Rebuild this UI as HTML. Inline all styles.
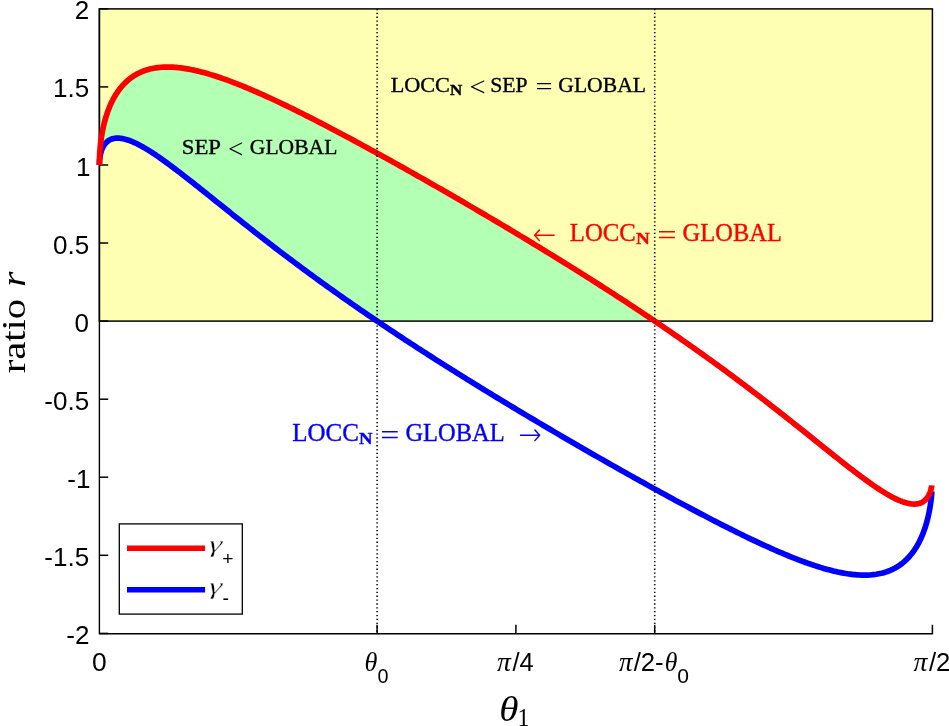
<!DOCTYPE html>
<html><head><meta charset="utf-8"><title>ratio r vs theta_1</title>
<style>
html,body{margin:0;padding:0;background:#fff;}
svg{display:block}
</style></head><body>
<svg width="949" height="726" viewBox="0 0 949 726">
<rect width="949" height="726" fill="#fff"/>
<rect x="99.4" y="8.9" width="833.0" height="312.2" fill="#ffffb3"/>
<path d="M99.40,164.92 L99.41,163.13 L99.43,161.34 L99.47,159.55 L99.53,157.77 L99.61,155.98 L99.70,154.20 L99.80,152.42 L99.93,150.65 L100.07,148.88 L100.22,147.12 L100.40,145.37 L100.59,143.63 L100.79,141.89 L101.02,140.16 L101.25,138.45 L101.51,136.74 L101.78,135.05 L102.07,133.36 L102.37,131.69 L102.69,130.04 L103.03,128.39 L103.39,126.76 L103.76,125.15 L104.14,123.55 L104.54,121.97 L104.96,120.40 L105.40,118.85 L105.85,117.32 L106.32,115.81 L106.80,114.31 L107.30,112.83 L107.82,111.38 L108.35,109.94 L108.90,108.52 L109.46,107.12 L110.04,105.74 L110.64,104.39 L111.25,103.05 L111.88,101.74 L112.53,100.45 L113.19,99.18 L113.86,97.93 L114.56,96.71 L115.27,95.51 L115.99,94.33 L116.73,93.18 L117.49,92.05 L118.26,90.95 L119.05,89.86 L119.85,88.81 L120.67,87.77 L121.50,86.77 L122.35,85.78 L123.22,84.82 L124.10,83.89 L125.00,82.98 L125.91,82.10 L126.84,81.24 L127.78,80.41 L128.74,79.60 L129.71,78.82 L130.70,78.06 L131.71,77.33 L132.73,76.63 L133.76,75.95 L134.81,75.29 L135.88,74.66 L136.96,74.06 L138.05,73.48 L139.16,72.93 L140.29,72.40 L141.43,71.90 L142.58,71.42 L143.75,70.97 L144.94,70.55 L146.14,70.15 L147.35,69.77 L148.58,69.42 L149.82,69.09 L151.08,68.79 L152.35,68.51 L153.64,68.26 L154.94,68.03 L156.25,67.83 L157.58,67.65 L158.92,67.49 L160.28,67.36 L161.65,67.25 L163.04,67.17 L164.44,67.11 L165.85,67.07 L167.28,67.05 L168.72,67.06 L170.17,67.09 L171.64,67.14 L173.12,67.22 L174.62,67.31 L176.13,67.43 L177.65,67.57 L179.19,67.74 L180.74,67.92 L182.30,68.12 L183.87,68.35 L185.46,68.60 L187.07,68.86 L188.68,69.15 L190.31,69.46 L191.95,69.78 L193.60,70.13 L195.27,70.50 L196.95,70.88 L198.64,71.29 L200.35,71.71 L202.06,72.15 L203.79,72.61 L205.53,73.09 L207.29,73.59 L209.05,74.11 L210.83,74.64 L212.62,75.19 L214.42,75.76 L216.24,76.34 L218.06,76.94 L219.90,77.56 L221.75,78.19 L223.61,78.84 L225.49,79.51 L227.37,80.19 L229.27,80.89 L231.17,81.60 L233.09,82.32 L235.02,83.07 L236.96,83.82 L238.92,84.60 L240.88,85.38 L242.85,86.18 L244.84,87.00 L246.83,87.82 L248.84,88.66 L250.85,89.52 L252.88,90.39 L254.92,91.27 L256.97,92.16 L259.02,93.07 L261.09,93.99 L263.17,94.92 L265.26,95.86 L267.36,96.81 L269.46,97.78 L271.58,98.76 L273.71,99.75 L275.85,100.75 L277.99,101.76 L280.15,102.78 L282.31,103.81 L284.49,104.86 L286.67,105.91 L288.86,106.98 L291.07,108.05 L293.28,109.14 L295.50,110.23 L297.72,111.33 L299.96,112.45 L302.21,113.57 L304.46,114.70 L306.72,115.84 L308.99,116.99 L311.27,118.15 L313.56,119.32 L315.85,120.50 L318.15,121.68 L320.47,122.87 L322.78,124.07 L325.11,125.28 L327.44,126.50 L329.78,127.73 L332.13,128.96 L334.49,130.20 L336.85,131.45 L339.22,132.70 L341.60,133.96 L343.98,135.23 L346.37,136.51 L348.77,137.79 L351.17,139.08 L353.58,140.38 L356.00,141.68 L358.42,143.00 L360.85,144.31 L363.28,145.63 L365.73,146.96 L368.17,148.30 L370.63,149.64 L373.09,150.99 L375.55,152.34 L378.02,153.70 L380.50,155.07 L382.98,156.44 L385.46,157.81 L387.95,159.19 L390.45,160.58 L392.95,161.97 L395.46,163.37 L397.97,164.77 L400.48,166.18 L403.00,167.59 L405.53,169.01 L408.06,170.43 L410.59,171.86 L413.13,173.29 L415.67,174.73 L418.21,176.17 L420.76,177.62 L423.32,179.07 L425.87,180.52 L428.43,181.98 L431.00,183.44 L433.56,184.91 L436.13,186.38 L438.71,187.86 L441.28,189.34 L443.86,190.82 L446.45,192.31 L449.03,193.80 L451.62,195.29 L454.21,196.79 L456.80,198.29 L459.40,199.80 L461.99,201.31 L464.59,202.82 L467.19,204.34 L469.80,205.86 L472.40,207.38 L475.01,208.91 L477.62,210.44 L480.23,211.97 L482.84,213.51 L485.45,215.05 L488.07,216.59 L490.68,218.13 L493.30,219.68 L495.91,221.23 L498.53,222.79 L501.15,224.35 L503.77,225.90 L506.39,227.47 L509.01,229.03 L511.63,230.60 L514.25,232.17 L516.87,233.74 L519.49,235.32 L522.11,236.90 L524.72,238.48 L527.34,240.06 L529.96,241.65 L532.58,243.24 L535.20,244.83 L537.81,246.42 L540.43,248.01 L543.05,249.61 L545.66,251.21 L548.27,252.81 L550.88,254.42 L553.49,256.02 L556.10,257.63 L558.71,259.24 L561.31,260.85 L563.92,262.47 L566.52,264.08 L569.12,265.70 L571.71,267.32 L574.31,268.94 L576.90,270.57 L579.49,272.19 L582.08,273.82 L584.66,275.45 L587.25,277.08 L589.83,278.71 L592.40,280.35 L594.98,281.98 L597.55,283.62 L600.11,285.26 L602.68,286.90 L605.24,288.54 L607.79,290.19 L610.35,291.83 L612.90,293.48 L615.44,295.13 L617.98,296.78 L620.52,298.43 L623.05,300.08 L625.58,301.73 L628.11,303.39 L630.63,305.04 L633.14,306.70 L635.65,308.36 L638.16,310.02 L640.66,311.68 L643.16,313.34 L645.65,315.01 L648.13,316.67 L650.62,318.34 L653.09,320.00 L654.73,321.10 L654.73,321.10 L653.09,321.10 L650.62,321.10 L648.13,321.10 L645.65,321.10 L643.16,321.10 L640.66,321.10 L638.16,321.10 L635.65,321.10 L633.14,321.10 L630.63,321.10 L628.11,321.10 L625.58,321.10 L623.05,321.10 L620.52,321.10 L617.98,321.10 L615.44,321.10 L612.90,321.10 L610.35,321.10 L607.79,321.10 L605.24,321.10 L602.68,321.10 L600.11,321.10 L597.55,321.10 L594.98,321.10 L592.40,321.10 L589.83,321.10 L587.25,321.10 L584.66,321.10 L582.08,321.10 L579.49,321.10 L576.90,321.10 L574.31,321.10 L571.71,321.10 L569.12,321.10 L566.52,321.10 L563.92,321.10 L561.31,321.10 L558.71,321.10 L556.10,321.10 L553.49,321.10 L550.88,321.10 L548.27,321.10 L545.66,321.10 L543.05,321.10 L540.43,321.10 L537.81,321.10 L535.20,321.10 L532.58,321.10 L529.96,321.10 L527.34,321.10 L524.72,321.10 L522.11,321.10 L519.49,321.10 L516.87,321.10 L514.25,321.10 L511.63,321.10 L509.01,321.10 L506.39,321.10 L503.77,321.10 L501.15,321.10 L498.53,321.10 L495.91,321.10 L493.30,321.10 L490.68,321.10 L488.07,321.10 L485.45,321.10 L482.84,321.10 L480.23,321.10 L477.62,321.10 L475.01,321.10 L472.40,321.10 L469.80,321.10 L467.19,321.10 L464.59,321.10 L461.99,321.10 L459.40,321.10 L456.80,321.10 L454.21,321.10 L451.62,321.10 L449.03,321.10 L446.45,321.10 L443.86,321.10 L441.28,321.10 L438.71,321.10 L436.13,321.10 L433.56,321.10 L431.00,321.10 L428.43,321.10 L425.87,321.10 L423.32,321.10 L420.76,321.10 L418.21,321.10 L415.67,321.10 L413.13,321.10 L410.59,321.10 L408.06,321.10 L405.53,321.10 L403.00,321.10 L400.48,321.10 L397.97,321.10 L395.46,321.10 L392.95,321.10 L390.45,321.10 L387.95,321.10 L385.46,321.10 L382.98,321.10 L380.50,321.10 L378.02,321.10 L375.55,320.07 L373.09,318.40 L370.63,316.73 L368.17,315.06 L365.73,313.38 L363.28,311.71 L360.85,310.04 L358.42,308.37 L356.00,306.69 L353.58,305.02 L351.17,303.34 L348.77,301.67 L346.37,299.99 L343.98,298.32 L341.60,296.64 L339.22,294.97 L336.85,293.29 L334.49,291.62 L332.13,289.94 L329.78,288.27 L327.44,286.59 L325.11,284.92 L322.78,283.24 L320.47,281.57 L318.15,279.89 L315.85,278.22 L313.56,276.55 L311.27,274.88 L308.99,273.21 L306.72,271.54 L304.46,269.87 L302.21,268.21 L299.96,266.54 L297.72,264.88 L295.50,263.22 L293.28,261.56 L291.07,259.90 L288.86,258.25 L286.67,256.59 L284.49,254.94 L282.31,253.29 L280.15,251.65 L277.99,250.01 L275.85,248.37 L273.71,246.73 L271.58,245.09 L269.46,243.46 L267.36,241.84 L265.26,240.21 L263.17,238.59 L261.09,236.98 L259.02,235.37 L256.97,233.76 L254.92,232.16 L252.88,230.56 L250.85,228.97 L248.84,227.38 L246.83,225.80 L244.84,224.23 L242.85,222.66 L240.88,221.09 L238.92,219.53 L236.96,217.98 L235.02,216.44 L233.09,214.90 L231.17,213.37 L229.27,211.85 L227.37,210.33 L225.49,208.82 L223.61,207.33 L221.75,205.83 L219.90,204.35 L218.06,202.88 L216.24,201.41 L214.42,199.96 L212.62,198.51 L210.83,197.08 L209.05,195.65 L207.29,194.24 L205.53,192.84 L203.79,191.44 L202.06,190.06 L200.35,188.69 L198.64,187.34 L196.95,185.99 L195.27,184.66 L193.60,183.34 L191.95,182.03 L190.31,180.74 L188.68,179.46 L187.07,178.19 L185.46,176.94 L183.87,175.70 L182.30,174.48 L180.74,173.27 L179.19,172.08 L177.65,170.90 L176.13,169.74 L174.62,168.60 L173.12,167.47 L171.64,166.36 L170.17,165.26 L168.72,164.19 L167.28,163.13 L165.85,162.09 L164.44,161.07 L163.04,160.07 L161.65,159.08 L160.28,158.12 L158.92,157.17 L157.58,156.25 L156.25,155.34 L154.94,154.46 L153.64,153.59 L152.35,152.75 L151.08,151.93 L149.82,151.13 L148.58,150.35 L147.35,149.59 L146.14,148.86 L144.94,148.14 L143.75,147.45 L142.58,146.79 L141.43,146.14 L140.29,145.52 L139.16,144.93 L138.05,144.35 L136.96,143.81 L135.88,143.28 L134.81,142.78 L133.76,142.31 L132.73,141.86 L131.71,141.43 L130.70,141.03 L129.71,140.66 L128.74,140.31 L127.78,139.98 L126.84,139.69 L125.91,139.41 L125.00,139.17 L124.10,138.95 L123.22,138.75 L122.35,138.58 L121.50,138.44 L120.67,138.33 L119.85,138.24 L119.05,138.18 L118.26,138.14 L117.49,138.13 L116.73,138.15 L115.99,138.19 L115.27,138.26 L114.56,138.36 L113.86,138.48 L113.19,138.63 L112.53,138.81 L111.88,139.01 L111.25,139.24 L110.64,139.50 L110.04,139.78 L109.46,140.08 L108.90,140.42 L108.35,140.77 L107.82,141.16 L107.30,141.57 L106.80,142.00 L106.32,142.46 L105.85,142.94 L105.40,143.45 L104.96,143.98 L104.54,144.53 L104.14,145.11 L103.76,145.72 L103.39,146.34 L103.03,146.99 L102.69,147.66 L102.37,148.35 L102.07,149.06 L101.78,149.80 L101.51,150.55 L101.25,151.33 L101.02,152.13 L100.79,152.94 L100.59,153.77 L100.40,154.63 L100.22,155.50 L100.07,156.39 L99.93,157.29 L99.80,158.21 L99.70,159.15 L99.61,160.10 L99.53,161.07 L99.47,162.05 L99.43,163.05 L99.41,164.05 L99.40,165.07Z" fill="#b3ffb3"/>
<rect x="99.4" y="8.9" width="833.0" height="312.2" fill="none" stroke="#000" stroke-width="1.5"/>
<g stroke="#000" stroke-width="1.4" fill="none">
<path d="M99.4,8.200000000000001 V633.8 H933.1"/>
</g>
<g stroke="#000" stroke-width="1.5" fill="none">
<line x1="99.4" y1="8.8" x2="108.2" y2="8.8"/>
<line x1="99.4" y1="86.9" x2="108.2" y2="86.9"/>
<line x1="99.4" y1="165.0" x2="108.2" y2="165.0"/>
<line x1="99.4" y1="243.0" x2="108.2" y2="243.0"/>
<line x1="99.4" y1="321.1" x2="108.2" y2="321.1"/>
<line x1="99.4" y1="399.2" x2="108.2" y2="399.2"/>
<line x1="99.4" y1="477.2" x2="108.2" y2="477.2"/>
<line x1="99.4" y1="555.3" x2="108.2" y2="555.3"/>
<line x1="99.4" y1="633.4" x2="108.2" y2="633.4"/>
<line x1="377.1" y1="633.8" x2="377.1" y2="624.8"/>
<line x1="515.9" y1="633.8" x2="515.9" y2="624.8"/>
<line x1="654.7" y1="633.8" x2="654.7" y2="624.8"/>
<line x1="932.4" y1="633.8" x2="932.4" y2="624.8"/>
</g>
<path d="M99.40,165.07 L99.41,164.05 L99.43,163.05 L99.47,162.05 L99.53,161.07 L99.61,160.10 L99.70,159.15 L99.80,158.21 L99.93,157.29 L100.07,156.39 L100.22,155.50 L100.40,154.63 L100.59,153.77 L100.79,152.94 L101.02,152.13 L101.25,151.33 L101.51,150.55 L101.78,149.80 L102.07,149.06 L102.37,148.35 L102.69,147.66 L103.03,146.99 L103.39,146.34 L103.76,145.72 L104.14,145.11 L104.54,144.53 L104.96,143.98 L105.40,143.45 L105.85,142.94 L106.32,142.46 L106.80,142.00 L107.30,141.57 L107.82,141.16 L108.35,140.77 L108.90,140.42 L109.46,140.08 L110.04,139.78 L110.64,139.50 L111.25,139.24 L111.88,139.01 L112.53,138.81 L113.19,138.63 L113.86,138.48 L114.56,138.36 L115.27,138.26 L115.99,138.19 L116.73,138.15 L117.49,138.13 L118.26,138.14 L119.05,138.18 L119.85,138.24 L120.67,138.33 L121.50,138.44 L122.35,138.58 L123.22,138.75 L124.10,138.95 L125.00,139.17 L125.91,139.41 L126.84,139.69 L127.78,139.98 L128.74,140.31 L129.71,140.66 L130.70,141.03 L131.71,141.43 L132.73,141.86 L133.76,142.31 L134.81,142.78 L135.88,143.28 L136.96,143.81 L138.05,144.35 L139.16,144.93 L140.29,145.52 L141.43,146.14 L142.58,146.79 L143.75,147.45 L144.94,148.14 L146.14,148.86 L147.35,149.59 L148.58,150.35 L149.82,151.13 L151.08,151.93 L152.35,152.75 L153.64,153.59 L154.94,154.46 L156.25,155.34 L157.58,156.25 L158.92,157.17 L160.28,158.12 L161.65,159.08 L163.04,160.07 L164.44,161.07 L165.85,162.09 L167.28,163.13 L168.72,164.19 L170.17,165.26 L171.64,166.36 L173.12,167.47 L174.62,168.60 L176.13,169.74 L177.65,170.90 L179.19,172.08 L180.74,173.27 L182.30,174.48 L183.87,175.70 L185.46,176.94 L187.07,178.19 L188.68,179.46 L190.31,180.74 L191.95,182.03 L193.60,183.34 L195.27,184.66 L196.95,185.99 L198.64,187.34 L200.35,188.69 L202.06,190.06 L203.79,191.44 L205.53,192.84 L207.29,194.24 L209.05,195.65 L210.83,197.08 L212.62,198.51 L214.42,199.96 L216.24,201.41 L218.06,202.88 L219.90,204.35 L221.75,205.83 L223.61,207.33 L225.49,208.82 L227.37,210.33 L229.27,211.85 L231.17,213.37 L233.09,214.90 L235.02,216.44 L236.96,217.98 L238.92,219.53 L240.88,221.09 L242.85,222.66 L244.84,224.23 L246.83,225.80 L248.84,227.38 L250.85,228.97 L252.88,230.56 L254.92,232.16 L256.97,233.76 L259.02,235.37 L261.09,236.98 L263.17,238.59 L265.26,240.21 L267.36,241.84 L269.46,243.46 L271.58,245.09 L273.71,246.73 L275.85,248.37 L277.99,250.01 L280.15,251.65 L282.31,253.29 L284.49,254.94 L286.67,256.59 L288.86,258.25 L291.07,259.90 L293.28,261.56 L295.50,263.22 L297.72,264.88 L299.96,266.54 L302.21,268.21 L304.46,269.87 L306.72,271.54 L308.99,273.21 L311.27,274.88 L313.56,276.55 L315.85,278.22 L318.15,279.89 L320.47,281.57 L322.78,283.24 L325.11,284.92 L327.44,286.59 L329.78,288.27 L332.13,289.94 L334.49,291.62 L336.85,293.29 L339.22,294.97 L341.60,296.64 L343.98,298.32 L346.37,299.99 L348.77,301.67 L351.17,303.34 L353.58,305.02 L356.00,306.69 L358.42,308.37 L360.85,310.04 L363.28,311.71 L365.73,313.38 L368.17,315.06 L370.63,316.73 L373.09,318.40 L375.55,320.07 L378.02,321.73 L380.50,323.40 L382.98,325.07 L385.46,326.73 L387.95,328.40 L390.45,330.06 L392.95,331.72 L395.46,333.38 L397.97,335.04 L400.48,336.70 L403.00,338.36 L405.53,340.02 L408.06,341.67 L410.59,343.32 L413.13,344.98 L415.67,346.63 L418.21,348.28 L420.76,349.92 L423.32,351.57 L425.87,353.22 L428.43,354.86 L431.00,356.50 L433.56,358.14 L436.13,359.78 L438.71,361.42 L441.28,363.05 L443.86,364.68 L446.45,366.32 L449.03,367.95 L451.62,369.57 L454.21,371.20 L456.80,372.83 L459.40,374.45 L461.99,376.07 L464.59,377.69 L467.19,379.31 L469.80,380.92 L472.40,382.53 L475.01,384.14 L477.62,385.75 L480.23,387.36 L482.84,388.96 L485.45,390.57 L488.07,392.17 L490.68,393.76 L493.30,395.36 L495.91,396.95 L498.53,398.55 L501.15,400.13 L503.77,401.72 L506.39,403.30 L509.01,404.89 L511.63,406.46 L514.25,408.04 L516.87,409.62 L519.49,411.19 L522.11,412.75 L524.72,414.32 L527.34,415.88 L529.96,417.44 L532.58,419.00 L535.20,420.56 L537.81,422.11 L540.43,423.66 L543.05,425.20 L545.66,426.75 L548.27,428.29 L550.88,429.82 L553.49,431.36 L556.10,432.89 L558.71,434.41 L561.31,435.94 L563.92,437.46 L566.52,438.98 L569.12,440.49 L571.71,442.00 L574.31,443.51 L576.90,445.01 L579.49,446.51 L582.08,448.00 L584.66,449.49 L587.25,450.98 L589.83,452.47 L592.40,453.95 L594.98,455.42 L597.55,456.90 L600.11,458.36 L602.68,459.83 L605.24,461.29 L607.79,462.74 L610.35,464.19 L612.90,465.64 L615.44,467.08 L617.98,468.52 L620.52,469.95 L623.05,471.38 L625.58,472.80 L628.11,474.22 L630.63,475.63 L633.14,477.04 L635.65,478.44 L638.16,479.84 L640.66,481.24 L643.16,482.62 L645.65,484.01 L648.13,485.38 L650.62,486.75 L653.09,488.12 L655.56,489.48 L658.03,490.83 L660.48,492.18 L662.94,493.52 L665.38,494.86 L667.83,496.19 L670.26,497.51 L672.69,498.83 L675.11,500.14 L677.53,501.45 L679.94,502.75 L682.34,504.04 L684.74,505.32 L687.13,506.60 L689.52,507.87 L691.89,509.13 L694.26,510.39 L696.62,511.64 L698.98,512.88 L701.33,514.11 L703.67,515.34 L706.00,516.56 L708.33,517.77 L710.65,518.97 L712.96,520.16 L715.26,521.35 L717.55,522.53 L719.84,523.70 L722.12,524.86 L724.39,526.01 L726.65,527.15 L728.90,528.28 L731.15,529.41 L733.39,530.52 L735.61,531.63 L737.83,532.73 L740.04,533.81 L742.25,534.89 L744.44,535.95 L746.62,537.01 L748.80,538.06 L750.96,539.09 L753.12,540.12 L755.26,541.13 L757.40,542.13 L759.53,543.12 L761.65,544.10 L763.75,545.07 L765.85,546.03 L767.94,546.97 L770.02,547.91 L772.09,548.83 L774.15,549.74 L776.19,550.63 L778.23,551.52 L780.26,552.39 L782.27,553.24 L784.28,554.09 L786.27,554.92 L788.26,555.74 L790.23,556.54 L792.20,557.33 L794.15,558.10 L796.09,558.86 L798.02,559.61 L799.94,560.34 L801.84,561.06 L803.74,561.76 L805.62,562.45 L807.50,563.12 L809.36,563.77 L811.21,564.41 L813.05,565.03 L814.87,565.64 L816.69,566.22 L818.49,566.80 L820.28,567.35 L822.06,567.89 L823.82,568.41 L825.58,568.91 L827.32,569.40 L829.05,569.86 L830.77,570.31 L832.47,570.74 L834.16,571.15 L835.84,571.55 L837.51,571.92 L839.16,572.27 L840.80,572.61 L842.43,572.92 L844.04,573.22 L845.65,573.49 L847.24,573.75 L848.81,573.98 L850.37,574.19 L851.92,574.38 L853.46,574.56 L854.98,574.71 L856.49,574.83 L857.99,574.94 L859.47,575.02 L860.94,575.09 L862.39,575.13 L863.83,575.15 L865.26,575.14 L866.67,575.11 L868.07,575.06 L869.46,574.99 L870.83,574.90 L872.19,574.78 L873.53,574.63 L874.86,574.47 L876.17,574.28 L877.47,574.06 L878.76,573.82 L880.03,573.56 L881.29,573.28 L882.53,572.97 L883.76,572.63 L884.97,572.27 L886.17,571.89 L887.36,571.48 L888.53,571.05 L889.68,570.59 L890.82,570.11 L891.95,569.60 L893.06,569.07 L894.15,568.51 L895.23,567.93 L896.30,567.32 L897.35,566.69 L898.38,566.03 L899.40,565.35 L900.41,564.64 L901.40,563.91 L902.37,563.16 L903.33,562.38 L904.27,561.57 L905.20,560.74 L906.11,559.89 L907.01,559.01 L907.89,558.11 L908.76,557.18 L909.61,556.24 L910.44,555.26 L911.26,554.27 L912.06,553.25 L912.85,552.20 L913.62,551.14 L914.38,550.05 L915.12,548.94 L915.85,547.81 L916.55,546.66 L917.25,545.48 L917.92,544.29 L918.58,543.07 L919.23,541.84 L919.86,540.58 L920.47,539.31 L921.07,538.02 L921.65,536.71 L922.21,535.38 L922.76,534.03 L923.29,532.67 L923.81,531.30 L924.31,529.91 L924.79,528.50 L925.26,527.09 L925.71,525.66 L926.15,524.22 L926.57,522.77 L926.97,521.31 L927.36,519.85 L927.73,518.38 L928.08,516.91 L928.42,515.43 L928.74,513.96 L929.04,512.48 L929.33,511.02 L929.60,509.56 L929.86,508.12 L930.10,506.69 L930.32,505.28 L930.52,503.91 L930.71,502.56 L930.89,501.26 L931.04,500.02 L931.18,498.84 L931.31,497.73 L931.41,496.72 L931.50,495.82 L931.58,495.04 L931.64,494.41 L931.68,493.95 L931.70,493.66 L931.71,493.57 L931.81,491.37" fill="none" stroke="#0000ff" stroke-width="5.7" stroke-linejoin="round"/>
<path d="M99.40,164.92 L99.41,163.13 L99.43,161.34 L99.47,159.55 L99.53,157.77 L99.61,155.98 L99.70,154.20 L99.80,152.42 L99.93,150.65 L100.07,148.88 L100.22,147.12 L100.40,145.37 L100.59,143.63 L100.79,141.89 L101.02,140.16 L101.25,138.45 L101.51,136.74 L101.78,135.05 L102.07,133.36 L102.37,131.69 L102.69,130.04 L103.03,128.39 L103.39,126.76 L103.76,125.15 L104.14,123.55 L104.54,121.97 L104.96,120.40 L105.40,118.85 L105.85,117.32 L106.32,115.81 L106.80,114.31 L107.30,112.83 L107.82,111.38 L108.35,109.94 L108.90,108.52 L109.46,107.12 L110.04,105.74 L110.64,104.39 L111.25,103.05 L111.88,101.74 L112.53,100.45 L113.19,99.18 L113.86,97.93 L114.56,96.71 L115.27,95.51 L115.99,94.33 L116.73,93.18 L117.49,92.05 L118.26,90.95 L119.05,89.86 L119.85,88.81 L120.67,87.77 L121.50,86.77 L122.35,85.78 L123.22,84.82 L124.10,83.89 L125.00,82.98 L125.91,82.10 L126.84,81.24 L127.78,80.41 L128.74,79.60 L129.71,78.82 L130.70,78.06 L131.71,77.33 L132.73,76.63 L133.76,75.95 L134.81,75.29 L135.88,74.66 L136.96,74.06 L138.05,73.48 L139.16,72.93 L140.29,72.40 L141.43,71.90 L142.58,71.42 L143.75,70.97 L144.94,70.55 L146.14,70.15 L147.35,69.77 L148.58,69.42 L149.82,69.09 L151.08,68.79 L152.35,68.51 L153.64,68.26 L154.94,68.03 L156.25,67.83 L157.58,67.65 L158.92,67.49 L160.28,67.36 L161.65,67.25 L163.04,67.17 L164.44,67.11 L165.85,67.07 L167.28,67.05 L168.72,67.06 L170.17,67.09 L171.64,67.14 L173.12,67.22 L174.62,67.31 L176.13,67.43 L177.65,67.57 L179.19,67.74 L180.74,67.92 L182.30,68.12 L183.87,68.35 L185.46,68.60 L187.07,68.86 L188.68,69.15 L190.31,69.46 L191.95,69.78 L193.60,70.13 L195.27,70.50 L196.95,70.88 L198.64,71.29 L200.35,71.71 L202.06,72.15 L203.79,72.61 L205.53,73.09 L207.29,73.59 L209.05,74.11 L210.83,74.64 L212.62,75.19 L214.42,75.76 L216.24,76.34 L218.06,76.94 L219.90,77.56 L221.75,78.19 L223.61,78.84 L225.49,79.51 L227.37,80.19 L229.27,80.89 L231.17,81.60 L233.09,82.32 L235.02,83.07 L236.96,83.82 L238.92,84.60 L240.88,85.38 L242.85,86.18 L244.84,87.00 L246.83,87.82 L248.84,88.66 L250.85,89.52 L252.88,90.39 L254.92,91.27 L256.97,92.16 L259.02,93.07 L261.09,93.99 L263.17,94.92 L265.26,95.86 L267.36,96.81 L269.46,97.78 L271.58,98.76 L273.71,99.75 L275.85,100.75 L277.99,101.76 L280.15,102.78 L282.31,103.81 L284.49,104.86 L286.67,105.91 L288.86,106.98 L291.07,108.05 L293.28,109.14 L295.50,110.23 L297.72,111.33 L299.96,112.45 L302.21,113.57 L304.46,114.70 L306.72,115.84 L308.99,116.99 L311.27,118.15 L313.56,119.32 L315.85,120.50 L318.15,121.68 L320.47,122.87 L322.78,124.07 L325.11,125.28 L327.44,126.50 L329.78,127.73 L332.13,128.96 L334.49,130.20 L336.85,131.45 L339.22,132.70 L341.60,133.96 L343.98,135.23 L346.37,136.51 L348.77,137.79 L351.17,139.08 L353.58,140.38 L356.00,141.68 L358.42,143.00 L360.85,144.31 L363.28,145.63 L365.73,146.96 L368.17,148.30 L370.63,149.64 L373.09,150.99 L375.55,152.34 L378.02,153.70 L380.50,155.07 L382.98,156.44 L385.46,157.81 L387.95,159.19 L390.45,160.58 L392.95,161.97 L395.46,163.37 L397.97,164.77 L400.48,166.18 L403.00,167.59 L405.53,169.01 L408.06,170.43 L410.59,171.86 L413.13,173.29 L415.67,174.73 L418.21,176.17 L420.76,177.62 L423.32,179.07 L425.87,180.52 L428.43,181.98 L431.00,183.44 L433.56,184.91 L436.13,186.38 L438.71,187.86 L441.28,189.34 L443.86,190.82 L446.45,192.31 L449.03,193.80 L451.62,195.29 L454.21,196.79 L456.80,198.29 L459.40,199.80 L461.99,201.31 L464.59,202.82 L467.19,204.34 L469.80,205.86 L472.40,207.38 L475.01,208.91 L477.62,210.44 L480.23,211.97 L482.84,213.51 L485.45,215.05 L488.07,216.59 L490.68,218.13 L493.30,219.68 L495.91,221.23 L498.53,222.79 L501.15,224.35 L503.77,225.90 L506.39,227.47 L509.01,229.03 L511.63,230.60 L514.25,232.17 L516.87,233.74 L519.49,235.32 L522.11,236.90 L524.72,238.48 L527.34,240.06 L529.96,241.65 L532.58,243.24 L535.20,244.83 L537.81,246.42 L540.43,248.01 L543.05,249.61 L545.66,251.21 L548.27,252.81 L550.88,254.42 L553.49,256.02 L556.10,257.63 L558.71,259.24 L561.31,260.85 L563.92,262.47 L566.52,264.08 L569.12,265.70 L571.71,267.32 L574.31,268.94 L576.90,270.57 L579.49,272.19 L582.08,273.82 L584.66,275.45 L587.25,277.08 L589.83,278.71 L592.40,280.35 L594.98,281.98 L597.55,283.62 L600.11,285.26 L602.68,286.90 L605.24,288.54 L607.79,290.19 L610.35,291.83 L612.90,293.48 L615.44,295.13 L617.98,296.78 L620.52,298.43 L623.05,300.08 L625.58,301.73 L628.11,303.39 L630.63,305.04 L633.14,306.70 L635.65,308.36 L638.16,310.02 L640.66,311.68 L643.16,313.34 L645.65,315.01 L648.13,316.67 L650.62,318.34 L653.09,320.00 L655.56,321.67 L658.03,323.34 L660.48,325.00 L662.94,326.67 L665.38,328.34 L667.83,330.01 L670.26,331.69 L672.69,333.36 L675.11,335.03 L677.53,336.70 L679.94,338.38 L682.34,340.05 L684.74,341.72 L687.13,343.40 L689.52,345.07 L691.89,346.75 L694.26,348.42 L696.62,350.09 L698.98,351.77 L701.33,353.44 L703.67,355.12 L706.00,356.79 L708.33,358.46 L710.65,360.13 L712.96,361.81 L715.26,363.48 L717.55,365.15 L719.84,366.82 L722.12,368.48 L724.39,370.15 L726.65,371.82 L728.90,373.48 L731.15,375.14 L733.39,376.81 L735.61,378.47 L737.83,380.12 L740.04,381.78 L742.25,383.43 L744.44,385.09 L746.62,386.74 L748.80,388.38 L750.96,390.03 L753.12,391.67 L755.26,393.31 L757.40,394.94 L759.53,396.58 L761.65,398.21 L763.75,399.83 L765.85,401.45 L767.94,403.07 L770.02,404.69 L772.09,406.29 L774.15,407.90 L776.19,409.50 L778.23,411.10 L780.26,412.69 L782.27,414.27 L784.28,415.85 L786.27,417.43 L788.26,419.00 L790.23,420.56 L792.20,422.12 L794.15,423.67 L796.09,425.21 L798.02,426.75 L799.94,428.28 L801.84,429.80 L803.74,431.32 L805.62,432.82 L807.50,434.32 L809.36,435.81 L811.21,437.30 L813.05,438.77 L814.87,440.23 L816.69,441.69 L818.49,443.13 L820.28,444.57 L822.06,445.99 L823.82,447.41 L825.58,448.81 L827.32,450.20 L829.05,451.59 L830.77,452.96 L832.47,454.32 L834.16,455.66 L835.84,457.00 L837.51,458.32 L839.16,459.63 L840.80,460.92 L842.43,462.20 L844.04,463.47 L845.65,464.72 L847.24,465.96 L848.81,467.19 L850.37,468.40 L851.92,469.59 L853.46,470.77 L854.98,471.94 L856.49,473.08 L857.99,474.21 L859.47,475.33 L860.94,476.42 L862.39,477.50 L863.83,478.56 L865.26,479.61 L866.67,480.63 L868.07,481.64 L869.46,482.63 L870.83,483.60 L872.19,484.55 L873.53,485.48 L874.86,486.39 L876.17,487.28 L877.47,488.15 L878.76,489.00 L880.03,489.83 L881.29,490.64 L882.53,491.42 L883.76,492.19 L884.97,492.93 L886.17,493.65 L887.36,494.35 L888.53,495.02 L889.68,495.67 L890.82,496.30 L891.95,496.91 L893.06,497.49 L894.15,498.05 L895.23,498.59 L896.30,499.10 L897.35,499.58 L898.38,500.05 L899.40,500.48 L900.41,500.90 L901.40,501.28 L902.37,501.65 L903.33,501.99 L904.27,502.30 L905.20,502.59 L906.11,502.85 L907.01,503.09 L907.89,503.30 L908.76,503.48 L909.61,503.64 L910.44,503.78 L911.26,503.89 L912.06,503.97 L912.85,504.03 L913.62,504.06 L914.38,504.07 L915.12,504.05 L915.85,504.00 L916.55,503.93 L917.25,503.84 L917.92,503.72 L918.58,503.57 L919.23,503.40 L919.86,503.21 L920.47,502.99 L921.07,502.75 L921.65,502.48 L922.21,502.19 L922.76,501.87 L923.29,501.53 L923.81,501.17 L924.31,500.79 L924.79,500.38 L925.26,499.96 L925.71,499.51 L926.15,499.04 L926.57,498.56 L926.97,498.05 L927.36,497.53 L927.73,496.99 L928.08,496.43 L928.42,495.86 L928.74,495.27 L929.04,494.67 L929.33,494.06 L929.60,493.45 L929.86,492.82 L930.10,492.20 L930.32,491.57 L930.52,490.94 L930.71,490.32 L930.89,489.71 L931.04,489.12 L931.18,488.55 L931.31,488.02 L931.41,487.52 L931.50,487.07 L931.58,486.69 L931.64,486.37 L931.68,486.14 L931.70,485.99 L931.71,485.94 L931.74,485.30" fill="none" stroke="#ff0000" stroke-width="5.7" stroke-linejoin="round"/>
<g stroke="#000" stroke-width="1.55" stroke-dasharray="1.3 2.56" fill="none">
<line x1="377.1" y1="8.9" x2="377.1" y2="633.8"/>
<line x1="654.7" y1="8.9" x2="654.7" y2="633.8"/>
</g>
<rect x="119.3" y="523.9" width="123.0" height="90.2" fill="#fff" stroke="#000" stroke-width="1.3"/>
<line x1="127" y1="548.2" x2="205.1" y2="548.2" stroke="#ff0000" stroke-width="5.6"/>
<line x1="127" y1="589.7" x2="205.1" y2="589.7" stroke="#0000ff" stroke-width="5.6"/>
<text transform="translate(181.81,154.40) scale(1.1152,1.0000)" font-family='"Liberation Serif",serif' font-size="20.4" stroke="#000" stroke-width="0.35">SEP</text>
<text transform="translate(227.97,158.38) scale(1.3263,1.2923)" font-family='"Liberation Serif",serif' font-size="20.4">&lt;</text>
<text transform="translate(249.81,154.40) scale(1.0588,1.0000)" font-family='"Liberation Serif",serif' font-size="20.4" stroke="#000" stroke-width="0.35">GLOBAL</text>
<text transform="translate(390.65,91.70) scale(1.0900,1.0000)" font-family='"Liberation Serif",serif' font-size="20.4" stroke="#000" stroke-width="0.35">LOCC</text>
<text transform="translate(449.90,94.50) scale(1.1800,1.0000)" font-family='"Liberation Serif",serif' font-size="14.4" font-weight="bold" stroke="#000" stroke-width="0.35">N</text>
<text transform="translate(469.40,95.68) scale(1.4000,1.2923)" font-family='"Liberation Serif",serif' font-size="20.4">&lt;</text>
<text transform="translate(490.17,91.70) scale(1.0636,1.0000)" font-family='"Liberation Serif",serif' font-size="20.4" stroke="#000" stroke-width="0.35">SEP</text>
<text transform="translate(535.52,94.46) scale(1.4842,1.1429)" font-family='"Liberation Serif",serif' font-size="20.4">=</text>
<text transform="translate(558.30,91.70) scale(1.0601,1.0000)" font-family='"Liberation Serif",serif' font-size="20.4" stroke="#000" stroke-width="0.35">GLOBAL</text>
<text transform="translate(532.54,244.97) scale(1.0098,1.1000)" font-family='"DejaVu Sans",sans-serif' font-size="28" font-weight="200" fill="#ff0000">←</text>
<text transform="translate(569.73,241.10) scale(1.0281,1.0000)" font-family='"Liberation Serif",serif' font-size="24.15" fill="#ff0000" stroke="#ff0000" stroke-width="0.35">LOCC</text>
<text transform="translate(636.11,244.00) scale(1.1565,1.0000)" font-family='"Liberation Serif",serif' font-size="16.6" font-weight="bold" fill="#ff0000" stroke="#ff0000" stroke-width="0.35">N</text>
<text transform="translate(657.32,244.98) scale(1.4222,1.2167)" font-family='"Liberation Serif",serif' font-size="24.15" fill="#ff0000">=</text>
<text transform="translate(682.59,241.10) scale(1.0147,1.0000)" font-family='"Liberation Serif",serif' font-size="24.15" fill="#ff0000" stroke="#ff0000" stroke-width="0.35">GLOBAL</text>
<text transform="translate(292.32,441.10) scale(1.0345,1.0000)" font-family='"Liberation Serif",serif' font-size="24.15" fill="#0000ff" stroke="#0000ff" stroke-width="0.35">LOCC</text>
<text transform="translate(359.02,444.00) scale(1.1304,1.0000)" font-family='"Liberation Serif",serif' font-size="16.6" font-weight="bold" fill="#0000ff" stroke="#0000ff" stroke-width="0.35">N</text>
<text transform="translate(380.14,444.98) scale(1.4044,1.2167)" font-family='"Liberation Serif",serif' font-size="24.15" fill="#0000ff">=</text>
<text transform="translate(405.39,441.10) scale(1.0136,1.0000)" font-family='"Liberation Serif",serif' font-size="24.15" fill="#0000ff" stroke="#0000ff" stroke-width="0.35">GLOBAL</text>
<text transform="translate(518.21,445.07) scale(0.9951,1.1000)" font-family='"DejaVu Sans",sans-serif' font-size="28" font-weight="200" fill="#0000ff">→</text>
<text transform="translate(74.85,19.40) scale(1.0000,1.0000)" font-family='"Liberation Sans",sans-serif' font-size="26">2</text>
<text transform="translate(53.10,97.47) scale(1.0000,1.0000)" font-family='"Liberation Sans",sans-serif' font-size="26">1.5</text>
<text transform="translate(76.05,175.55) scale(1.0000,1.0000)" font-family='"Liberation Sans",sans-serif' font-size="26">1</text>
<text transform="translate(53.10,253.63) scale(1.0000,1.0000)" font-family='"Liberation Sans",sans-serif' font-size="26">0.5</text>
<text transform="translate(74.60,331.70) scale(1.0000,1.0000)" font-family='"Liberation Sans",sans-serif' font-size="26">0</text>
<text transform="translate(44.35,409.78) scale(1.0000,1.0000)" font-family='"Liberation Sans",sans-serif' font-size="26">-0.5</text>
<text transform="translate(67.30,487.85) scale(1.0000,1.0000)" font-family='"Liberation Sans",sans-serif' font-size="26">-1</text>
<text transform="translate(44.35,565.93) scale(1.0000,1.0000)" font-family='"Liberation Sans",sans-serif' font-size="26">-1.5</text>
<text transform="translate(66.35,644.00) scale(1.0000,1.0000)" font-family='"Liberation Sans",sans-serif' font-size="26">-2</text>
<text transform="translate(91.88,670.80) scale(1.0160,1.0000)" font-family='"Liberation Sans",sans-serif' font-size="26">0</text>
<text transform="translate(364.57,670.80) scale(0.9867,1.0000)" font-family='"Liberation Serif",serif' font-size="26.6" font-style="italic">θ</text>
<text transform="translate(377.56,683.30) scale(0.9895,1.0000)" font-family='"Liberation Sans",sans-serif' font-size="20">0</text>
<text transform="translate(497.04,670.80) scale(1.0400,1.0000)" font-family='"Liberation Serif",serif' font-size="26.6" font-style="italic">π</text>
<text transform="translate(512.50,670.80) scale(0.9762,1.0000)" font-family='"Liberation Sans",sans-serif' font-size="26">/4</text>
<text transform="translate(619.05,670.80) scale(1.0109,1.0000)" font-family='"Liberation Serif",serif' font-size="26.6" font-style="italic">π</text>
<text transform="translate(633.70,670.80) scale(0.9880,1.0000)" font-family='"Liberation Sans",sans-serif' font-size="26">/2-</text>
<text transform="translate(664.79,670.80) scale(0.9689,1.0000)" font-family='"Liberation Serif",serif' font-size="26.6" font-style="italic">θ</text>
<text transform="translate(677.21,683.40) scale(1.0526,1.0000)" font-family='"Liberation Sans",sans-serif' font-size="20">0</text>
<text transform="translate(913.44,670.80) scale(1.0400,1.0000)" font-family='"Liberation Serif",serif' font-size="26.6" font-style="italic">π</text>
<text transform="translate(928.90,670.80) scale(0.9902,1.0000)" font-family='"Liberation Sans",sans-serif' font-size="26">/2</text>
<text transform="translate(206.81,552.24) scale(1.3579,1.0230) skewX(-14)" font-family='"Liberation Serif",serif' font-size="22.8" stroke="#fff" stroke-width="0.3">γ</text>
<text transform="translate(222.34,565.25) scale(0.9641,0.9436)" font-family='"Liberation Sans",sans-serif' font-size="20">+</text>
<text transform="translate(206.81,593.64) scale(1.3579,1.0230) skewX(-14)" font-family='"Liberation Serif",serif' font-size="22.8" stroke="#fff" stroke-width="0.3">γ</text>
<text transform="translate(222.43,605.10) scale(0.9684,1.0000)" font-family='"Liberation Sans",sans-serif' font-size="20">-</text>
<text transform="translate(499.25,720.65) scale(1.0581,0.9867)" font-family='"Liberation Serif",serif' font-size="37" font-style="italic">θ</text>
<text transform="translate(517.50,726.00) scale(0.9333,1.0209)" font-family='"Liberation Serif",serif' font-size="25.5">1</text>
<text transform="translate(24.80,373.28) rotate(-90) scale(1.1771,1)" font-family='"Liberation Serif",serif' font-size="34.5">ratio</text>
<text transform="translate(24.80,286.79) rotate(-90) scale(1.1250,1)" font-family='"Liberation Serif",serif' font-size="34.5" font-style="italic">r</text>
</svg>
</body></html>
